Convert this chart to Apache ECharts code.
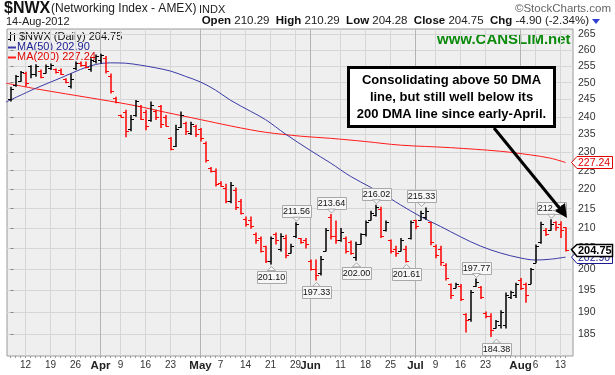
<!DOCTYPE html>
<html><head><meta charset="utf-8">
<script src="https://cdn.jsdelivr.net/npm/echarts@6/dist/echarts.min.js"></script>
<style>html,body{margin:0;padding:0;background:#fff}#c{width:615px;height:375px}</style>
</head><body><div id="c"></div>
<script>
// ---------- DATA ----------
const dates = ['Mar 7','Mar 8','Mar 9','Mar 12','Mar 13','Mar 14','Mar 15','Mar 16','Mar 19','Mar 20','Mar 21','Mar 22','Mar 23','Mar 26','Mar 27','Mar 28','Mar 29','Mar 30',
'Apr 2','Apr 3','Apr 4','Apr 5','Apr 9','Apr 10','Apr 11','Apr 12','Apr 13','Apr 16','Apr 17','Apr 18','Apr 19','Apr 20','Apr 23','Apr 24','Apr 25','Apr 26','Apr 27','Apr 30',
'May 1','May 2','May 3','May 4','May 7','May 8','May 9','May 10','May 11','May 14','May 15','May 16','May 17','May 18','May 21','May 22','May 23','May 24','May 25','May 29','May 30','May 31',
'Jun 1','Jun 4','Jun 5','Jun 6','Jun 7','Jun 8','Jun 11','Jun 12','Jun 13','Jun 14','Jun 15','Jun 18','Jun 19','Jun 20','Jun 21','Jun 22','Jun 25','Jun 26','Jun 27','Jun 28','Jun 29',
'Jul 2','Jul 3','Jul 5','Jul 6','Jul 9','Jul 10','Jul 11','Jul 12','Jul 13','Jul 16','Jul 17','Jul 18','Jul 19','Jul 20','Jul 23','Jul 24','Jul 25','Jul 26','Jul 27','Jul 30','Jul 31',
'Aug 1','Aug 2','Aug 3','Aug 6','Aug 7','Aug 8','Aug 9','Aug 10','Aug 13','Aug 14'];

const open = [245.3,249.3,250.6,253.0,255.0,252.5,253.5,253.0,254.3,254.0,253.8,251.0,249.0,254.5,256.0,255.5,254.0,256.5,
257.0,257.5,252.0,245.5,240.5,241.5,236.5,240.5,243.0,241.5,239.0,241.8,243.0,240.0,234.0,231.8,237.0,238.3,235.5,237.5,
236.5,232.5,225.8,225.0,221.8,220.5,217.0,220.0,217.0,212.5,212.0,208.5,207.5,205.5,202.0,208.5,205.0,207.5,204.0,208.0,207.5,207.0,
202.0,200.0,199.0,204.5,213.0,208.0,207.0,207.5,206.5,203.0,206.2,208.5,212.2,213.5,215.0,209.5,207.0,205.0,204.5,205.0,207.5,
212.0,212.0,213.0,211.5,205.5,205.0,201.0,196.5,195.6,196.0,189.5,188.5,196.0,195.8,189.8,189.0,186.5,187.0,187.0,193.5,194.0,
197.5,196.5,196.5,201.5,206.5,209.5,209.6,211.5,211.0,210.29];
const high = [248.8,252.3,253.5,253.3,255.3,255.6,254.0,255.5,255.8,254.3,254.3,251.3,252.8,256.4,256.4,256.4,257.4,258.6,
258.8,258.1,252.8,245.8,240.6,242.0,240.5,244.9,243.4,242.0,244.4,242.0,243.4,240.5,234.3,237.7,241.5,238.6,238.6,237.7,
236.8,233.0,226.0,225.6,222.2,221.5,222.0,220.5,217.5,213.0,213.0,209.0,208.0,205.7,208.0,209.0,208.8,208.4,206.2,211.56,207.6,207.6,
202.3,202.3,203.2,210.1,213.64,212.0,210.1,208.0,207.0,206.7,208.8,212.0,214.5,216.02,215.5,212.0,207.2,205.7,207.6,205.7,212.0,
212.2,214.5,215.33,211.7,206.0,205.7,201.4,196.6,196.8,196.5,189.7,195.1,197.77,196.0,190.1,189.7,188.2,190.4,194.5,194.9,196.8,
197.9,196.8,200.3,206.0,211.7,210.1,212.30,211.8,211.8,210.29];
const low = [244.4,248.8,250.3,248.8,251.3,251.8,251.3,252.8,253.8,252.8,252.3,249.8,248.3,253.8,254.8,254.3,253.3,255.8,
255.8,252.8,246.8,243.9,239.8,234.2,235.9,240.0,239.1,236.2,238.6,239.1,236.8,237.2,230.6,231.5,236.8,234.8,234.8,234.3,
233.0,227.2,224.5,220.8,220.7,216.4,216.4,214.7,213.5,210.5,209.9,206.2,204.0,201.5,201.10,206.0,204.3,202.6,203.8,207.6,206.2,205.0,
199.7,197.33,198.5,204.3,207.2,206.2,206.7,203.8,203.5,202.00,206.0,208.0,212.0,213.0,207.6,209.2,203.8,203.0,204.3,201.61,207.2,
209.8,211.9,212.2,205.8,202.6,200.8,197.3,193.0,195.5,192.5,185.4,187.8,195.8,193.0,188.6,184.38,186.3,186.3,186.3,193.0,193.2,
195.1,192.1,196.4,201.4,206.2,208.1,209.4,209.4,207.6,204.28];
const close = [248.0,252.0,253.1,250.0,252.5,255.0,251.8,255.0,255.5,253.3,252.5,250.3,251.0,256.0,255.3,254.6,257.0,258.0,
258.3,253.5,247.5,244.3,240.0,236.0,239.5,244.5,239.5,237.5,243.5,240.0,238.0,237.5,231.0,236.5,240.5,236.0,238.0,235.0,
234.0,228.0,225.0,221.5,221.0,217.0,221.2,215.5,214.0,211.0,210.5,207.0,204.5,202.0,207.5,207.0,208.0,203.5,205.5,211.0,206.5,206.0,
200.0,198.5,202.5,209.5,208.0,207.0,209.0,204.5,204.0,206.0,208.5,211.5,214.0,215.5,208.0,211.5,204.5,203.8,207.0,202.0,211.5,
210.5,214.0,214.5,206.5,203.5,201.8,198.0,194.0,196.5,193.0,188.3,194.5,197.0,193.5,189.0,186.0,188.0,190.0,194.0,194.5,196.5,
195.5,194.0,200.0,205.5,211.0,208.5,211.0,210.3,209.65,204.75];
const closeBeforeFirst = 245.0;

// moving averages: [bar index, value]
const ma50 = [[-1,244.2],[5,248.3],[10,251.4],[14,254.0],[17,255.5],[20,256.0],[23,255.9],[26,255.3],[29,254.5],[32,253.5],[35,251.9],
[38,250.2],[41,247.8],[44,244.8],[48,241.6],[51,239.2],[55,235.1],[60,230.5],[64,227.1],[68,223.5],[72,220.6],[76,217.6],[78,216.0],
[82,213.0],[86,210.5],[90,207.9],[94,205.6],[98,203.9],[102,202.7],[105,202.2],[108,202.4],[111,202.9]];
const ma200 = [[-1,249.9],[5,248.2],[11,246.7],[18,245.0],[25,243.2],[31,241.3],[38,239.2],[44,237.4],[48,236.3],[51,235.6],[58,234.5],
[64,233.9],[71,233.0],[78,232.0],[88,231.3],[98,230.3],[104,229.3],[108,228.4],[111,227.24]];

const yTicks = [185,190,195,200,205,210,215,220,225,230,235,240,245,250,255,260,265];
const xLabelDates = ['Mar 12','Mar 19','Mar 26','Apr 2','Apr 9','Apr 16','Apr 23','May 1','May 7','May 14','May 21','May 29','Jun 1','Jun 11','Jun 18','Jun 25','Jul 2','Jul 9','Jul 16','Jul 23','Aug 1','Aug 6','Aug 13'];
const xLabelTexts = ['12','19','26','Apr','9','16','23','May','7','14','21','29','Jun','11','18','25','Jul','9','16','23','Aug','6','13'];
const monthNames = ['Apr','May','Jun','Jul','Aug'];

// annotated highs / lows: [date, value, 1 = label above, 0 = below]
const hiLo = [['May 21',201.10,0],['May 29',211.56,1],['Jun 4',197.33,0],['Jun 7',213.64,1],['Jun 14',202.00,0],['Jun 20',216.02,1],
['Jun 28',201.61,0],['Jul 3',215.33,1],['Jul 19',197.77,1],['Jul 25',184.38,0],['Aug 9',212.30,1]];
const lastMA50 = 202.90, lastMA200 = 227.24;

// ---------- CHART ----------
const LN = Math.log;
const Y_MIN = LN(180.26), Y_MAX = LN(266.59);
const X_MIN = -0.7, X_MAX = 112.5;
const UP = '#000000', DOWN = '#ff0000', C50 = '#3a3aa6', C200 = '#ff1a1a';
const FONT = 'Liberation Sans, Arial, sans-serif';
const N = dates.length;

const barData = dates.map((d, i) => {
  const prev = i === 0 ? closeBeforeFirst : close[i - 1];
  return [i, LN(open[i]), LN(high[i]), LN(low[i]), LN(close[i]), close[i] >= prev ? 1 : 0];
});
const labelIdx = xLabelDates.map(d => dates.indexOf(d));
const splitColors = xLabelTexts.map(t => monthNames.includes(t) ? '#b4b4b4' : '#d6d6d6');

function renderBar(params, api) {
  const i = api.value(0);
  const pH = api.coord([i, api.value(2)]);
  const pL = api.coord([i, api.value(3)]);
  const yO = Math.round(api.coord([i, api.value(1)])[1]) + 0.5;
  const yC = Math.round(api.coord([i, api.value(4)])[1]) + 0.5;
  const x = Math.round(pH[0]);
  const col = api.value(5) ? UP : DOWN;
  return { type: 'group', children: [
    { type: 'rect', shape: { x: x - 0.75, y: pH[1], width: 1.5, height: Math.max(1, pL[1] - pH[1]) }, style: { fill: col } },
    { type: 'line', shape: { x1: x - 3, y1: yO, x2: x, y2: yO }, style: { stroke: col, lineWidth: 1 } },
    { type: 'line', shape: { x1: x, y1: yC, x2: x + 3, y2: yC }, style: { stroke: col, lineWidth: 1 } }
  ]};
}

const hiLoData = hiLo.map(h => [dates.indexOf(h[0]), LN(h[1]), h[2], h[1]]);
function renderHiLo(params, api) {
  const p = api.coord([api.value(0), api.value(1)]);
  const above = api.value(2) === 1;
  const txt = api.value(3).toFixed(2);
  const x = Math.round(p[0]) + 0.5, y = p[1];
  const w = 29, h = 12;
  const by = above ? y - 5 - h : y + 6;
  const tri = above
    ? [[x - 4, by + h], [x, by + h + 4], [x + 4, by + h]]
    : [[x - 4, by], [x, by - 4], [x + 4, by]];
  return { type: 'group', children: [
    { type: 'rect', shape: { x: Math.round(x - w / 2) + 0.5, y: Math.round(by) + 0.5, width: w, height: h }, style: { fill: '#f7f7f7', stroke: '#a8a8a8', lineWidth: 1 } },
    { type: 'polygon', shape: { points: tri }, style: { fill: '#f7f7f7', stroke: '#a8a8a8', lineWidth: 1 } },
    { type: 'text', style: { text: txt, x: x, y: Math.round(by) + h / 2 + 1, align: 'center', verticalAlign: 'middle', font: '9px ' + FONT, fill: '#111' } }
  ]};
}

const tagData = [[N - 1, LN(lastMA200), lastMA200, 0], [N - 1, LN(lastMA50), lastMA50, 1], [N - 1, LN(close[N - 1]), close[N - 1], 2]];
function renderTag(params, api) {
  const y = api.coord([api.value(0), api.value(1)])[1];
  const xe = api.coord([X_MAX, api.value(1)])[0];
  const kind = api.value(3);
  const col = kind === 0 ? '#e00000' : kind === 1 ? '#1a1a90' : '#000';
  const bold = kind === 2;
  const x0 = xe - 1.5, x1 = xe + 4, x2 = xe + 39.5;
  const yt = Math.round(y - 6) + 0.5, yb = yt + 12;
  return { type: 'group', children: [
    { type: 'polygon', shape: { points: [[x0, y], [x1, yt], [x2, yt], [x2, yb], [x1, yb]] }, style: { fill: '#fff', stroke: col, lineWidth: bold ? 1.5 : 1 } },
    { type: 'text', style: { text: api.value(2).toFixed(2), x: x1 + 1, y: yt + 6.5, align: 'left', verticalAlign: 'middle', font: (bold ? 'bold 11px ' : '10.5px ') + FONT, fill: kind === 2 ? '#000' : col } }
  ]};
}

const chart = echarts.init(document.getElementById('c'), null, { renderer: 'canvas' });
const last = N - 1;
const chg = close[last] - close[last - 1];
const chgPct = chg / close[last - 1] * 100;

chart.setOption({
  animation: false,
  backgroundColor: '#ffffff',
  grid: { left: 7, right: 42, top: 29, bottom: 19, show: true, backgroundColor: '#efefef', borderColor: '#9a9a9a', borderWidth: 1 },
  xAxis: [{
    type: 'value', min: X_MIN, max: X_MAX, position: 'bottom',
    axisLine: { show: false },
    axisTick: { show: false, customValues: labelIdx },
    axisLabel: {
      customValues: labelIdx, margin: 4, color: '#222', fontFamily: FONT, fontSize: 10,
      formatter: v => { const t = xLabelTexts[labelIdx.indexOf(Math.round(v))]; return monthNames.includes(t) ? '{m|' + t + '}' : '{d|' + t + '}'; },
      rich: { m: { fontWeight: 'bold', fontSize: 11.5, fontFamily: FONT, color: '#222' }, d: { fontSize: 10, fontFamily: FONT, color: '#333' } }
    },
    splitLine: { show: true, lineStyle: { color: splitColors, width: 1 } }
  }, {
    type: 'value', min: X_MIN, max: X_MAX, position: 'bottom',
    axisLine: { show: false },
    axisTick: { show: true, inside: false, length: 2, customValues: barData.map(b => b[0]), lineStyle: { color: '#9a9a9a' } },
    axisLabel: { show: false }, splitLine: { show: false }
  }],
  yAxis: [{
    type: 'value', min: Y_MIN, max: Y_MAX, position: 'right',
    axisLine: { show: false },
    axisTick: { show: true, length: 3, customValues: yTicks.map(LN), lineStyle: { color: '#888' } },
    axisLabel: { customValues: yTicks.map(LN), margin: 5, color: '#333', fontFamily: FONT, fontSize: 10.5, formatter: v => String(Math.round(Math.exp(v))) },
    splitLine: { show: true, lineStyle: { color: '#d6d6d6', width: 1 } }
  }],
  graphic: [
    { type: 'text', left: 4, top: 1, style: { text: '$NWX', font: 'bold 16px ' + FONT, fill: '#111' } },
    { type: 'text', left: 51, top: 3, style: { text: '(Networking Index - AMEX)', font: '12px ' + FONT, fill: '#222' } },
    { type: 'text', left: 199, top: 4, style: { text: 'INDX', font: '11px ' + FONT, fill: '#222' } },
    { type: 'text', right: 4, top: 3, style: { text: '\u00A9StockCharts.com', font: '11.5px ' + FONT, fill: '#666' } },
    { type: 'text', left: 6, top: 16, style: { text: '14-Aug-2012', font: '11px ' + FONT, fill: '#222' } },
    { type: 'text', right: 26, top: 15, style: {
      text: '{b|Open} ' + open[last].toFixed(2) + '  {b|High} ' + high[last].toFixed(2) + '  {b|Low} ' + low[last].toFixed(2) + '  {b|Close} ' + close[last].toFixed(2) + '  {b|Chg} ' + chg.toFixed(2) + ' (' + chgPct.toFixed(2) + '%)',
      font: '11.5px ' + FONT, fill: '#222', rich: { b: { font: 'bold 11.5px ' + FONT, fill: '#111' } } } },
    { type: 'polygon', shape: { points: [[592, 19], [600, 19], [596, 24]] }, style: { fill: '#2f3fd0' } },
    // legend
    { type: 'line', shape: { x1: 10.5, y1: 32, x2: 10.5, y2: 41 }, style: { stroke: '#000', lineWidth: 1 } },
    { type: 'line', shape: { x1: 8, y1: 39.5, x2: 10.5, y2: 39.5 }, style: { stroke: '#000', lineWidth: 1 } },
    { type: 'line', shape: { x1: 14.5, y1: 33, x2: 14.5, y2: 41 }, style: { stroke: '#000', lineWidth: 1 } },
    { type: 'line', shape: { x1: 14.5, y1: 34.5, x2: 17, y2: 34.5 }, style: { stroke: '#000', lineWidth: 1 } },
    { type: 'text', left: 19, top: 31, style: { text: '$NWX (Daily) ' + close[last].toFixed(2), font: '11px ' + FONT, fill: '#111' } },
    { type: 'line', shape: { x1: 8, y1: 47.5, x2: 16, y2: 47.5 }, style: { stroke: C50, lineWidth: 2 } },
    { type: 'text', left: 17, top: 41, style: { text: 'MA(50) ' + lastMA50.toFixed(2), font: '11px ' + FONT, fill: '#1a1a90' } },
    { type: 'line', shape: { x1: 8, y1: 57.5, x2: 16, y2: 57.5 }, style: { stroke: C200, lineWidth: 2 } },
    { type: 'text', left: 17, top: 51, style: { text: 'MA(200) ' + lastMA200.toFixed(2), font: '11px ' + FONT, fill: '#e00000' } },
    // watermark
    { type: 'text', left: 437, top: 32, style: { text: 'www.CANSLIM.net', font: 'bold 15px ' + FONT, fill: '#0b8a0b' } },
    // annotation
    { type: 'rect', shape: { x: 348.5, y: 67.5, width: 206, height: 59 }, style: { fill: '#ffffff', stroke: '#000', lineWidth: 3 }, z: 100 },
    { type: 'text', x: 451.5, y: 80, style: { text: 'Consolidating above 50 DMA', font: 'bold 13px ' + FONT, fill: '#000', align: 'center', verticalAlign: 'middle' }, z: 101 },
    { type: 'text', x: 451.5, y: 97, style: { text: 'line, but still well below its', font: 'bold 13px ' + FONT, fill: '#000', align: 'center', verticalAlign: 'middle' }, z: 101 },
    { type: 'text', x: 451.5, y: 114, style: { text: '200 DMA line since early-April.', font: 'bold 13px ' + FONT, fill: '#000', align: 'center', verticalAlign: 'middle' }, z: 101 },
    { type: 'line', shape: { x1: 494, y1: 128, x2: 561, y2: 210 }, style: { stroke: '#000', lineWidth: 3 }, z: 100 },
    { type: 'polygon', shape: { points: [[567, 218], [555, 211], [565, 203]] }, style: { fill: '#000' }, z: 100 }
  ],
  series: [
    { type: 'line', name: 'MA200', data: ma200.map(p => [p[0], LN(p[1])]), showSymbol: false, smooth: 0.35, clip: true, lineStyle: { color: C200, width: 1 }, z: 3 },
    { type: 'line', name: 'MA50', data: ma50.map(p => [p[0], LN(p[1])]), showSymbol: false, smooth: 0.35, clip: true, lineStyle: { color: C50, width: 1 }, z: 3 },
    { type: 'custom', name: 'NWX', renderItem: renderBar, data: barData, encode: { x: 0, y: [1, 2, 3, 4] }, z: 4 },
    { type: 'custom', name: 'hilo', renderItem: renderHiLo, data: hiLoData, encode: { x: 0, y: 1 }, z: 5 },
    { type: 'custom', name: 'tags', renderItem: renderTag, data: tagData, encode: { x: 0, y: 1 }, clip: false, z: 6 }
  ]
});
</script>
</body></html>
